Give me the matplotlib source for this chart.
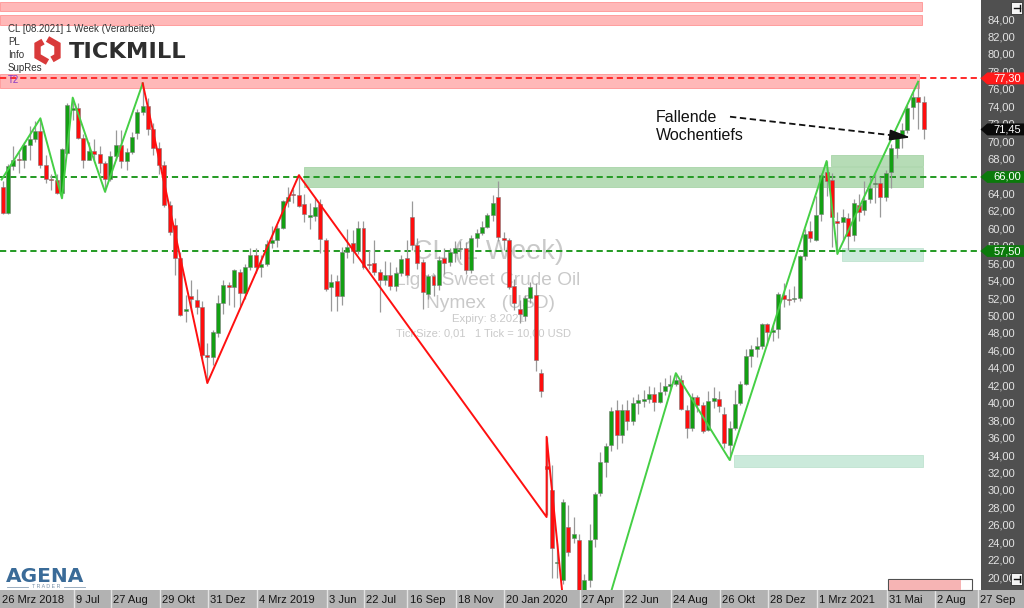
import numpy as np
import matplotlib
matplotlib.use("Agg")
import matplotlib.pyplot as plt
from matplotlib.patches import Rectangle, Polygon
import matplotlib.transforms as mtransforms

plt.rcParams['font.family'] = ['Liberation Sans', 'DejaVu Sans']

# ---------------- data (weekly candles, CL 08.2021, processed) ----------------
first_week = '2018-04-02'
opens = [64.8, 61.9, 67.3, 68.1, 67.9, 69.7, 70.4, 71.3, 67.4, 65.8,
         65.6, 64.2, 68.8, 73.7, 73.9, 70.5, 68.0, 69.0, 68.6, 67.6,
         65.8, 68.4, 69.7, 67.8, 68.9, 71.0, 73.5, 74.1, 71.5, 69.3,
         67.4, 62.8, 60.5, 56.7, 50.6, 52.3, 51.9, 51.1, 45.6, 45.3,
         48.1, 51.5, 53.6, 53.4, 55.1, 52.7, 55.7, 57.0, 55.7, 56.0,
         58.4, 58.8, 60.1, 63.2, 64.0, 63.9, 62.9, 61.4, 61.5, 62.9,
         58.8, 53.4, 54.1, 52.35, 57.4, 58.4, 57.5, 60.2, 56.0, 56.1,
         55.1, 54.2, 54.8, 53.5, 55.0, 56.7, 61.4, 58.2, 56.3, 52.6,
         54.6, 53.6, 56.7, 56.3, 57.3, 57.7, 57.8, 55.3, 59.0, 59.6,
         60.3, 61.6, 63.7, 59.0, 58.8, 53.5, 50.9, 50.0, 52.1, 52.5,
         43.5, 32.8, 30.1, 21.7, 19.8, 25.9, 24.6, 24.4, 17.0, 19.8,
         24.5, 29.7, 33.3, 35.3, 39.3, 36.4, 39.3, 38.0, 40.1, 40.3,
         40.5, 41.1, 40.2, 41.4, 42.0, 42.3, 42.7, 39.3, 37.2, 40.8,
         39.9, 37.0, 40.3, 40.5, 38.8, 35.3, 37.2, 40.1, 42.3, 45.5,
         46.3, 46.6, 49.1, 48.2, 48.6, 52.5, 52.0, 52.0, 52.1, 56.9,
         59.8, 58.8, 61.8, 66.6, 65.7, 61.0, 60.8, 61.3, 59.3, 62.8,
         62.2, 63.5, 65.2, 65.3, 63.7, 66.6, 69.3, 70.7, 71.4, 74.0,
         75.2, 74.6]
highs = [65.5, 67.5, 69.5, 68.9, 70.0, 71.9, 72.4, 72.7, 68.5, 66.3,
         66.3, 69.3, 74.5, 75.1, 74.5, 70.9, 70.0, 70.3, 69.5, 67.8,
         69.0, 71.4, 71.4, 69.3, 71.2, 73.8, 76.74, 75.0, 72.2, 70.0,
         67.8, 63.3, 61.3, 57.4, 52.5, 54.2, 53.2, 51.8, 47.0, 48.5,
         52.5, 54.2, 54.0, 55.5, 55.5, 56.0, 57.8, 57.9, 57.0, 58.8,
         60.4, 60.5, 63.4, 64.8, 64.6, 66.3, 64.1, 63.0, 63.7, 63.5,
         59.0, 54.9, 54.8, 58.0, 60.0, 59.9, 60.9, 60.9, 57.6, 58.8,
         55.5, 56.4, 56.2, 55.7, 57.0, 58.8, 63.2, 59.0, 56.6, 54.9,
         54.9, 56.9, 57.9, 57.9, 58.7, 58.7, 58.5, 59.3, 60.0, 61.0,
         61.9, 63.9, 65.5, 59.7, 59.0, 54.3, 51.9, 52.5, 54.0, 53.8,
         44.0, 36.2, 33.0, 24.0, 29.1, 28.4, 27.0, 25.0, 20.5, 26.2,
         29.9, 34.5, 35.5, 39.6, 40.4, 40.0, 40.4, 40.8, 41.1, 41.6,
         42.0, 41.9, 42.5, 43.0, 43.3, 43.5, 43.3, 39.9, 41.2, 41.0,
         40.2, 41.5, 41.9, 41.4, 39.6, 38.0, 41.6, 42.6, 46.3, 46.7,
         47.7, 49.3, 49.3, 49.0, 52.8, 53.8, 53.2, 53.5, 57.0, 60.0,
         61.0, 63.8, 66.4, 67.83, 66.4, 62.0, 62.3, 61.9, 63.5, 64.0,
         65.5, 66.0, 66.6, 66.0, 66.8, 69.8, 71.0, 72.2, 74.2, 75.7,
         76.93, 75.3]
lows = [61.8, 61.7, 66.8, 66.5, 67.0, 68.0, 70.0, 67.0, 65.3, 64.5,
        64.0, 63.55, 68.6, 72.5, 70.4, 67.0, 67.9, 68.0, 66.4, 64.3,
        65.5, 68.0, 67.0, 66.8, 68.6, 70.3, 73.1, 70.8, 68.5, 66.3,
        62.5, 59.3, 54.8, 50.0, 49.4, 50.6, 50.3, 45.2, 42.37, 44.4,
        47.6, 50.3, 51.3, 51.1, 51.2, 52.0, 55.3, 55.0, 54.5, 55.8,
        57.9, 58.0, 60.0, 62.6, 63.0, 62.5, 60.8, 60.0, 60.9, 57.3,
        52.9, 50.6, 50.6, 51.3, 56.7, 56.1, 57.2, 55.4, 55.4, 54.8,
        50.5, 53.6, 53.0, 52.9, 54.6, 54.5, 57.6, 55.5, 50.9, 52.0,
        52.4, 53.0, 54.9, 55.8, 56.3, 56.6, 54.9, 55.0, 58.0, 59.4,
        60.1, 61.0, 58.7, 57.6, 53.2, 50.8, 49.3, 49.5, 51.6, 43.7,
        40.8, 27.2, 20.0, 20.0, 19.3, 22.5, 24.0, 6.5, 10.1, 19.0,
        23.6, 29.4, 31.6, 34.6, 34.8, 35.5, 37.0, 37.5, 38.8, 39.6,
        40.1, 39.2, 40.1, 41.0, 41.5, 42.0, 39.3, 36.1, 36.9, 39.0,
        36.6, 36.9, 39.5, 39.0, 34.9, 33.55, 37.0, 39.9, 42.1, 44.2,
        45.4, 46.3, 46.7, 47.2, 47.5, 51.1, 51.3, 51.7, 51.8, 56.5,
        58.5, 58.6, 61.0, 63.8, 58.0, 57.2, 58.6, 57.6, 58.7, 61.0,
        61.6, 63.0, 63.0, 61.4, 63.2, 64.7, 68.2, 69.3, 71.0, 72.6,
        71.5, 70.3]
closes = [61.9, 67.3, 67.9, 67.9, 69.7, 70.4, 71.3, 67.4, 65.8, 65.6,
          64.2, 69.2, 74.2, 73.9, 70.5, 68.0, 69.0, 68.6, 67.6, 65.8,
          68.4, 69.7, 67.8, 68.9, 70.6, 73.5, 74.1, 71.5, 69.3, 67.4,
          62.8, 59.7, 56.7, 50.2, 50.9, 52.0, 51.1, 45.6, 45.3, 48.2,
          51.5, 53.6, 53.4, 55.3, 52.7, 55.7, 57.0, 55.7, 56.0, 58.3,
          58.8, 60.1, 63.2, 63.7, 63.9, 62.7, 61.8, 61.6, 62.6, 58.9,
          53.2, 53.9, 52.35, 57.4, 58.0, 57.5, 60.2, 55.7, 55.85, 55.1,
          54.2, 54.8, 53.5, 55.0, 56.6, 54.8, 58.2, 56.1, 52.85, 54.6,
          53.6, 56.5, 56.1, 57.4, 57.8, 57.9, 55.3, 59.0, 59.6, 60.3,
          61.6, 63.0, 59.1, 58.8, 53.4, 51.5, 50.3, 52.1, 53.35, 45.0,
          41.4, 32.5, 23.4, 21.9, 28.7, 23.0, 25.0, 17.0, 19.8, 24.4,
          29.6, 33.3, 35.2, 39.2, 36.4, 39.3, 38.0, 40.1, 40.4, 40.5,
          41.1, 40.2, 41.3, 42.0, 42.3, 42.7, 39.4, 37.2, 40.8, 39.9,
          36.9, 40.3, 40.6, 39.7, 35.5, 37.2, 40.0, 42.3, 45.5, 46.3,
          46.6, 49.1, 48.2, 48.5, 52.6, 52.0, 51.9, 52.1, 56.9, 59.5,
          59.0, 61.6, 66.2, 65.5, 61.4, 60.7, 61.4, 59.2, 63.0, 62.0,
          63.4, 64.7, 65.3, 63.7, 66.5, 69.3, 70.7, 71.4, 73.9, 75.2,
          74.6, 71.45]

x_tick_dates = ['2018-03-26', '2018-07-09', '2018-08-27', '2018-10-29', '2018-12-31',
                '2019-03-04', '2019-06-03', '2019-07-22', '2019-09-16', '2019-11-18',
                '2020-01-20', '2020-04-27', '2020-06-22', '2020-08-24', '2020-10-26',
                '2020-12-28', '2021-03-01', '2021-05-31', '2021-08-02', '2021-09-27']
x_tick_labels = ['26 Mrz 2018', '9 Jul', '27 Aug', '29 Okt', '31 Dez', '4 Mrz 2019',
                 '3 Jun', '22 Jul', '16 Sep', '18 Nov', '20 Jan 2020', '27 Apr',
                 '22 Jun', '24 Aug', '26 Okt', '28 Dez', '1 Mrz 2021', '31 Mai',
                 '2 Aug', '27 Sep']

price_ticks = list(range(20, 86, 2))

level_values = [77.30, 66.00, 57.50]
level_colors = ['#ff2a2a', '#239a23', '#239a23']

tag_values = [77.30, 71.45, 66.00, 57.50]
tag_colors = ['#ff1a1a', '#0a0a0a', '#0b7a0b', '#0b7a0b']

# zig-zag swing points (week index, price)
zig_green1_x = [-0.2, 7, 11, 13, 19, 26]
zig_green1_y = [65.7, 72.73, 63.55, 75.1, 64.3, 76.74]
zig_red_x = [26, 38, 55, 101, 101, 106.2]
zig_red_y = [76.74, 42.37, 66.2, 27.0, 36.2, 4.3]
zig_green2_x = [106.2, 125, 135, 153, 155, 170]
zig_green2_y = [4.3, 43.5, 33.54, 67.83, 57.17, 76.93]

# zones: (x start, x end, low, high)
pink_zones = [(-0.5, 170.7, 85.0, 86.1), (-0.5, 170.7, 83.45, 84.55), (-0.5, 170.1, 76.2, 77.8)]
green_zones = [(55.95, 170.9, 64.85, 67.14), (153.8, 170.9, 67.3, 68.5)]
mint_zones = [(155.9, 170.9, 56.4, 57.85), (135.8, 170.9, 32.7, 34.1)]

arrow_start = (135.06, 72.91)
arrow_end = (169.1, 70.5)

# ---------------- figure ----------------
W, H = 1024, 608
PLOT_W, PLOT_H = 981, 590
fig = plt.figure(figsize=(W / 100, H / 100), dpi=100)

ax = fig.add_axes([0, (H - PLOT_H) / H, PLOT_W / W, PLOT_H / H])
ax.set_facecolor('white')
XL = (-0.501, 181.67)
YL = (18.633, 86.294)
ax.set_xlim(*XL)
ax.set_ylim(*YL)
for s in ax.spines.values():
    s.set_visible(False)
ax.set_xticks([])
ax.set_yticks([])

def axpos(px, py):
    return px / PLOT_W, 1 - py / PLOT_H

# zones
for x0, x1, y0, y1 in pink_zones:
    ax.add_patch(Rectangle((x0, y0), x1 - x0, y1 - y0, facecolor='#ffb8b8',
                           edgecolor='#ff9e9e', lw=0.7, zorder=1))
for x0, x1, y0, y1 in green_zones:
    ax.add_patch(Rectangle((x0, y0), x1 - x0, y1 - y0, facecolor='#b6dcb6',
                           edgecolor='#a8d4a8', lw=0.6, zorder=1))
for x0, x1, y0, y1 in mint_zones:
    ax.add_patch(Rectangle((x0, y0), x1 - x0, y1 - y0, facecolor='#cbeadb',
                           edgecolor='#bfe3d0', lw=0.6, zorder=1))

# watermark
wm_col = '#c9c9c9'
ax.text(*axpos(488, 252), 'CL (1 Week)', transform=ax.transAxes, ha='center', va='center',
        fontsize=19.5, color=wm_col, zorder=1.5)
ax.text(*axpos(488, 281), 'Light Sweet Crude Oil', transform=ax.transAxes, ha='center',
        va='center', fontsize=13.8, color=wm_col, zorder=1.5)
ax.text(*axpos(490, 304), 'Nymex   (USD)', transform=ax.transAxes, ha='center', va='center',
        fontsize=13.8, color=wm_col, zorder=1.5)
ax.text(*axpos(488, 319), 'Expiry: 8.2021', transform=ax.transAxes, ha='center', va='center',
        fontsize=8.2, color=wm_col, zorder=1.5)
ax.text(*axpos(483, 334), 'TickSize: 0,01   1 Tick = 10,00 USD', transform=ax.transAxes,
        ha='center', va='center', fontsize=8.0, color=wm_col, zorder=1.5)

# level lines
for v, c in zip(level_values, level_colors):
    ax.axhline(v, color=c, lw=1.4, ls=(0, (3.2, 2.0)), zorder=2)

# candles
idx = np.arange(len(closes))
o = np.array(opens); h = np.array(highs); l = np.array(lows); c = np.array(closes)
up = c >= o
ax.vlines(idx, l, h, color='#999999', lw=0.9, zorder=3)
body_lo = np.minimum(o, c)
body_h = np.maximum(np.abs(c - o), 0.12)
colors = np.where(up, '#13a013', '#ff0d0d')
ax.bar(idx, body_h, bottom=body_lo, width=0.74, color=colors, edgecolor='#7a7a7a',
       linewidth=0.4, zorder=4)

# zig-zag
ax.plot(zig_green1_x, zig_green1_y, color='#45cf45', lw=1.4, zorder=5)
ax.plot(zig_red_x, zig_red_y, color='#ff1010', lw=1.4, zorder=5)
ax.plot(zig_green2_x, zig_green2_y, color='#45cf45', lw=1.4, zorder=5)

# annotation arrow
sx, sy = arrow_start
ex, ey = arrow_end
frac = 0.9
mx, my = sx + (ex - sx) * frac, sy + (ey - sy) * frac
ax.plot([sx, mx], [sy, my], color='#111111', lw=1.3, ls=(0, (3.5, 2.0)), zorder=6)
ax.annotate('', xy=(ex, ey), xytext=(mx, my),
            arrowprops=dict(arrowstyle='-|>,head_length=1.25,head_width=0.33',
                            color='#111111', lw=1.2, mutation_scale=10), zorder=6)

# ---------------- price panel ----------------
axr = fig.add_axes([PLOT_W / W, (H - PLOT_H) / H, (W - PLOT_W) / W, PLOT_H / H])
axr.set_facecolor('#505050')
axr.set_xlim(0, 1)
axr.set_ylim(*YL)
axr.set_xticks([]); axr.set_yticks([])
for s in axr.spines.values():
    s.set_visible(False)
for p in price_ticks:
    # the 66,00 grid label sits fully under the 66,00 tag
    if any(abs(p - v) < 0.3 for v in tag_values):
        continue
    axr.text(0.47, p, f'{p:.2f}'.replace('.', ','), ha='center', va='center',
             fontsize=8, color='#e4e4e4', zorder=2)
for v, col in zip(tag_values, tag_colors):
    hh = 0.64
    axr.add_patch(Polygon([(0.0, v), (0.15, v + hh), (1.05, v + hh), (1.05, v - hh),
                           (0.15, v - hh)], closed=True, facecolor=col, edgecolor=col,
                          lw=0.5, zorder=3, clip_on=False))
    axr.text(0.62, v, f'{v:.2f}'.replace('.', ','), ha='center', va='center',
             fontsize=8, color='white', zorder=4)

# ---------------- date bar ----------------
axb = fig.add_axes([0, 0, 1, (H - PLOT_H) / H])
axb.set_facecolor('#b2b2b2')
axb.set_xlim(XL[0], XL[0] + (XL[1] - XL[0]) * W / PLOT_W)
axb.set_ylim(0, 1)
axb.set_xticks([]); axb.set_yticks([])
for s in axb.spines.values():
    s.set_visible(False)
t0 = np.datetime64(first_week)
for d, lab in zip(x_tick_dates, x_tick_labels):
    w = (np.datetime64(d) - t0).astype(int) / 7.0
    pos = w - 0.85
    if pos > XL[0]:
        axb.axvline(pos, color='#e2e2e2', lw=1.0)
    tx = max(pos + 0.4, XL[0] + 0.4)
    axb.text(tx, 0.45, lab, ha='left', va='center', fontsize=8, color='#151515')

# ---------------- overlay (logos, labels) ----------------
ov = fig.add_axes([0, 0, 1, 1], zorder=10)
ov.set_xlim(0, W)
ov.set_ylim(H, 0)
ov.axis('off')
ov.patch.set_alpha(0)

info_lines = [('CL [08.2021] 1 Week (Verarbeitet)', 29, '#333333'), ('PL', 42, '#333333'),
              ('Info', 55, '#333333'), ('SupRes', 68, '#333333'), ('T2', 80, '#8a3cc4')]
for txt, yy, col in info_lines:
    ov.text(8, yy, txt, fontsize=7.0, color=col, va='center', ha='left')

# Tickmill logo
cx, cy, R = 47.5, 50.5, 11.5
ang = np.deg2rad([90, 30, -30, -90, -150, 150])
vx = cx + R * np.cos(ang)
vy = cy - R * np.sin(ang)
def mix(a, b, t):
    return a + (b - a) * t
pa_x = [vx[0], vx[1], vx[2], mix(vx[2], vx[3], 0.55)]
pa_y = [vy[0], vy[1], vy[2], mix(vy[2], vy[3], 0.55)]
pb_x = [vx[3], vx[4], vx[5], mix(vx[5], vx[0], 0.55)]
pb_y = [vy[3], vy[4], vy[5], mix(vy[5], vy[0], 0.55)]
ov.plot(pa_x, pa_y, color='#d93a3a', lw=4.6, solid_capstyle='butt', solid_joinstyle='miter')
ov.plot(pb_x, pb_y, color='#d93a3a', lw=4.6, solid_capstyle='butt', solid_joinstyle='miter')
ov.text(69, 52, 'TICKMILL', fontsize=16.2, fontweight='bold', color='#2e2e2e',
        va='center', ha='left', family='DejaVu Sans')

# annotation text
ov.text(656, 118, 'Fallende', fontsize=11.5, color='#111111', va='center', ha='left')
ov.text(656, 136, 'Wochentiefs', fontsize=11.5, color='#111111', va='center', ha='left')

# Agena logo
ov.text(6, 582, 'AGENA', fontsize=14.5, fontweight='bold', color='#3a6b98',
        va='baseline', ha='left', family='DejaVu Sans')
ov.plot([7, 28], [586.5, 586.5], color='#8aa0b5', lw=0.6)
ov.plot([64, 85], [586.5, 586.5], color='#8aa0b5', lw=0.6)
ov.text(46, 586.5, 'T R A D E R', fontsize=3.8, color='#7890a8', ha='center', va='center')

# scroll widget bottom right
ov.add_patch(Rectangle((888, 579), 84, 11, facecolor='white', edgecolor='#505050', lw=0.8))
ov.add_patch(Rectangle((888.5, 579.5), 72, 10, facecolor='#f6b4b4', edgecolor='none'))

# pin icons
for yy in (2, 573):
    ov.add_patch(Rectangle((1011, yy), 11, 12, facecolor='#f4f4f4', edgecolor='#303030', lw=0.6))
    ov.plot([1013.5, 1019.5], [yy + 6, yy + 6], color='#111111', lw=1.0)
    ov.plot([1019.5, 1019.5], [yy + 3, yy + 9], color='#111111', lw=1.0)

fig.savefig('out.png', dpi=100)
